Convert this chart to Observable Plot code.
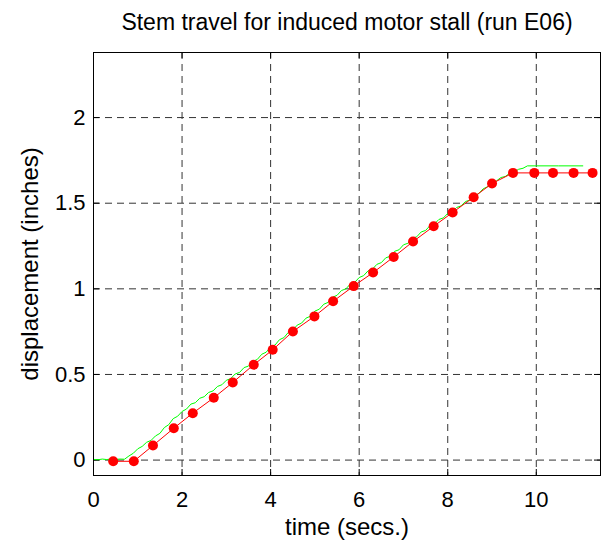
<!DOCTYPE html>
<html>
<head>
<meta charset="utf-8">
<script src="https://cdn.jsdelivr.net/npm/d3@7"></script>
<script src="https://cdn.jsdelivr.net/npm/@observablehq/plot@0.6"></script>
<style>
  html, body { margin: 0; padding: 0; background: #fff; }
  svg { display: block; }
</style>
</head>
<body>
<div id="chart"></div>
<script>
const titleText = "Stem travel for induced motor stall (run E06)";
const xLabel = "time (secs.)";
const yLabel = "displacement (inches)";
const xTicks = [0, 2, 4, 6, 8, 10];
const yTicks = [0, 0.5, 1, 1.5, 2];
const yTickLabels = ["0", "0.5", "1", "1.5", "2"];

// sampled (model) series: red dots
const redT = [0.445, 0.91, 1.343, 1.813, 2.242, 2.716, 3.145, 3.619, 4.047, 4.503, 4.989, 5.411, 5.876, 6.314, 6.779, 7.217, 7.682, 8.111, 8.585, 9.0, 9.474, 9.955, 10.377, 10.842, 11.271];
const redY = [-0.007, -0.007, 0.085, 0.186, 0.274, 0.364, 0.453, 0.557, 0.644, 0.751, 0.839, 0.927, 1.016, 1.095, 1.186, 1.276, 1.365, 1.446, 1.535, 1.615, 1.677, 1.677, 1.677, 1.677, 1.677];

// measured series: green trace
const greenT = [0.0, 0.1, 0.2, 0.3, 0.4, 0.5, 0.6, 0.7, 0.8, 0.9, 1.0, 1.1, 1.2, 1.3, 1.4, 1.5, 1.6, 1.7, 1.8, 1.9, 2.0, 2.1, 2.2, 2.3, 2.4, 2.5, 2.6, 2.7, 2.8, 2.9, 3.0, 3.1, 3.2, 3.3, 3.4, 3.5, 3.6, 3.7, 3.8, 3.9, 4.0, 4.1, 4.2, 4.3, 4.4, 4.5, 4.6, 4.7, 4.8, 4.9, 5.0, 5.1, 5.2, 5.3, 5.4, 5.5, 5.6, 5.7, 5.8, 5.9, 6.0, 6.1, 6.2, 6.3, 6.4, 6.5, 6.6, 6.7, 6.8, 6.9, 7.0, 7.1, 7.2, 7.3, 7.4, 7.5, 7.6, 7.7, 7.8, 7.9, 8.0, 8.1, 8.2, 8.3, 8.4, 8.5, 8.6, 8.7, 8.8, 8.9, 9.0, 9.1, 9.2, 9.3, 9.4, 9.5, 9.6, 9.7, 9.8, 10.0, 10.5, 11.05];
const greenY = [0.004, 0.002, 0.006, 0.003, 0.007, 0.004, 0.006, 0.005, 0.024, 0.040, 0.066, 0.080, 0.104, 0.115, 0.141, 0.156, 0.190, 0.207, 0.242, 0.256, 0.284, 0.298, 0.327, 0.335, 0.361, 0.370, 0.395, 0.404, 0.430, 0.440, 0.466, 0.476, 0.503, 0.512, 0.540, 0.549, 0.576, 0.588, 0.618, 0.630, 0.660, 0.672, 0.703, 0.715, 0.746, 0.758, 0.788, 0.800, 0.829, 0.840, 0.870, 0.881, 0.910, 0.921, 0.951, 0.962, 0.990, 1.000, 1.028, 1.038, 1.066, 1.077, 1.105, 1.115, 1.143, 1.153, 1.181, 1.190, 1.219, 1.228, 1.257, 1.266, 1.294, 1.304, 1.332, 1.341, 1.369, 1.379, 1.405, 1.414, 1.440, 1.449, 1.475, 1.484, 1.510, 1.518, 1.544, 1.556, 1.584, 1.596, 1.624, 1.630, 1.650, 1.656, 1.675, 1.681, 1.698, 1.704, 1.718, 1.718, 1.718, 1.718];

const red = redT.map((t, i) => ({t, y: redY[i]}));
const green = greenT.map((t, i) => ({t, y: greenY[i]}));

const W = 605, H = 546;
const mL = 93, mR = 5, mT = 52, mB = 71;
const plotW = W - mL - mR, plotH = H - mT - mB;
const tickLen = 6;
const font = "Liberation Sans, Arial, Helvetica, sans-serif";
const fsTick = 22, fsTitle = 23, fsLabel = 24;

const chart = Plot.plot({
  width: W,
  height: H,
  marginLeft: mL,
  marginRight: mR,
  marginTop: mT,
  marginBottom: mB,
  style: {fontFamily: font, fontSize: fsTick + "px", color: "#000", background: "#fff"},
  x: {domain: [0, 11.45], label: null},
  y: {domain: [-0.09, 2.38], label: null},
  marks: [
    Plot.gridX(xTicks, {stroke: "#333", strokeOpacity: 1, strokeWidth: 1, strokeDasharray: "7,5"}),
    Plot.gridY(yTicks, {stroke: "#333", strokeOpacity: 1, strokeWidth: 1, strokeDasharray: "7,5"}),
    Plot.tickX(xTicks, {x: d => d, insetTop: plotH - tickLen, stroke: "#000"}),
    Plot.tickX(xTicks, {x: d => d, insetBottom: plotH - tickLen, stroke: "#000"}),
    Plot.tickY(yTicks, {y: d => d, insetRight: plotW - tickLen, stroke: "#000"}),
    Plot.tickY(yTicks, {y: d => d, insetLeft: plotW - tickLen, stroke: "#000"}),
    Plot.axisX(xTicks, {tickSize: 0, tickPadding: 16, fontSize: fsTick, fill: "#000", label: null}),
    Plot.axisY(yTicks, {tickSize: 0, tickPadding: 8, fontSize: fsTick, fill: "#000", label: null, tickFormat: (d, i) => yTickLabels[i]}),
    Plot.line(green, {x: "t", y: "y", stroke: "#00ff00", strokeWidth: 1}),
    Plot.line(red, {x: "t", y: "y", stroke: "#ff0000", strokeWidth: 1}),
    Plot.dot(red, {x: "t", y: "y", r: 5, fill: "#ff0000", stroke: "none"}),
    Plot.frame({stroke: "#000", strokeWidth: 1}),
    Plot.text([titleText], {frameAnchor: "top", lineAnchor: "middle", textAnchor: "middle", dy: -30, fontSize: fsTitle, fill: "#000"}),
    Plot.text([xLabel], {frameAnchor: "bottom", lineAnchor: "middle", textAnchor: "middle", dy: 52, fontSize: fsLabel, fill: "#000"}),
    Plot.text([yLabel], {frameAnchor: "left", lineAnchor: "middle", textAnchor: "middle", dx: -63, rotate: -90, fontSize: fsLabel, fill: "#000"})
  ]
});
document.getElementById("chart").appendChild(chart);
</script>
</body>
</html>
